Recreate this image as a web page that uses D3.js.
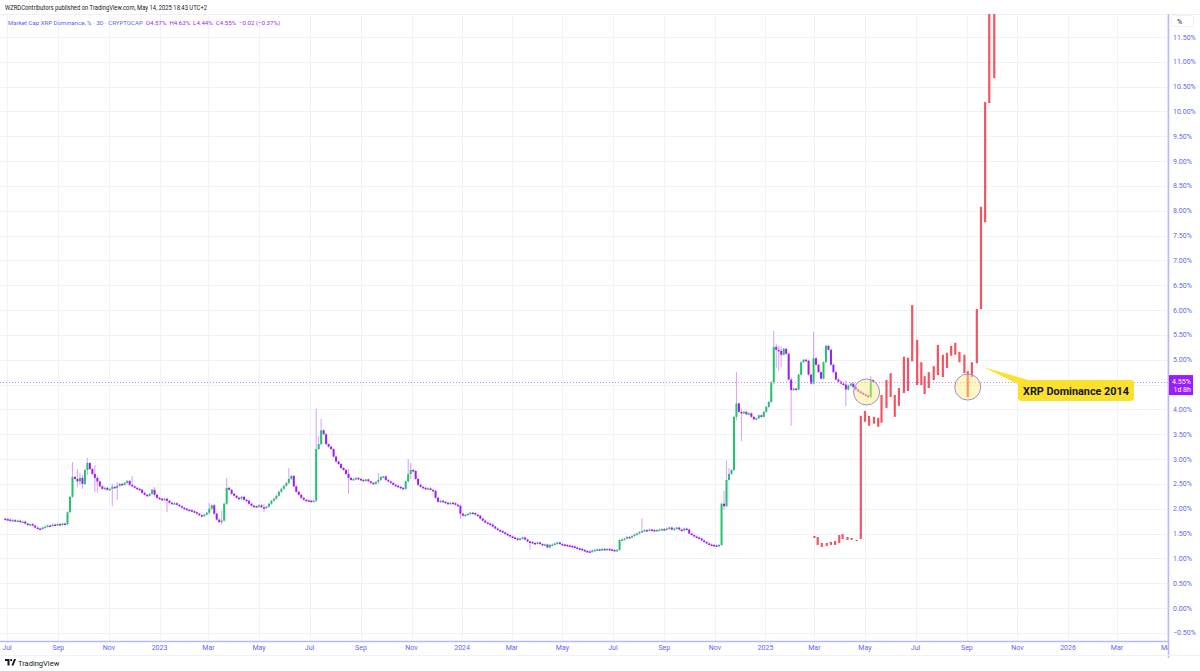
<!DOCTYPE html>
<html><head><meta charset="utf-8">
<script src="https://cdn.jsdelivr.net/npm/d3@7"></script>
<style>
body{margin:0;background:#fff;}
svg{display:block;font-family:Roboto,"Liberation Sans",sans-serif;}
</style>
</head><body>
<svg id="c" width="1200" height="671"></svg>
<script>
// ---------------- DATA ----------------
const startDate = "2022-06-29";          // first 3D candle
const stepDays = 3;
const firstOpen = 1.80;
const closes = [
 1.79,1.78,1.76,1.77,1.75,1.76,
 1.73,1.74,1.70,1.67,
 1.69,1.66,1.62,1.60,1.59,
 1.62,1.64,1.66,1.65,1.68,1.67,1.69,1.68,1.70,1.69,
 1.93,2.24,2.64,
 2.60,2.55,2.62,2.50,
 2.78,2.92,
 2.80,2.70,2.62,2.55,2.45,
 2.40,2.42,2.38,2.40,
 2.44,2.42,2.46,2.50,2.48,2.52,2.56,
 2.48,2.45,2.42,2.40,2.38,
 2.32,2.28,2.26,2.30,2.38,2.28,
 2.22,2.20,2.18,2.20,2.16,
 2.12,2.10,2.11,2.08,2.05,
 2.02,2.00,1.98,1.97,1.95,1.93,1.90,
 1.87,1.86,1.88,1.92,
 2.00,2.07,
 1.90,1.78,1.73,1.76,
 2.10,2.42,2.38,
 2.30,2.26,2.22,2.20,2.24,2.18,2.16,
 2.10,2.06,2.05,2.04,2.07,2.03,2.02,2.04,
 2.10,2.16,2.20,2.26,
 2.34,2.40,2.46,2.52,2.60,2.66,
 2.45,2.34,2.28,2.22,2.18,2.17,
 2.16,2.15,2.16,
 3.20,
 3.30,3.58,3.50,
 3.30,3.25,3.20,
 3.05,2.95,2.90,2.82,2.78,2.70,
 2.62,
 2.58,2.60,2.62,2.60,2.58,2.57,2.59,
 2.55,2.52,2.50,2.54,2.58,
 2.64,2.65,2.58,
 2.55,2.52,2.48,2.46,2.44,2.42,2.40,
 2.55,2.70,2.78,2.76,2.60,
 2.48,2.44,2.42,
 2.40,2.41,2.38,2.36,
 2.22,2.14,2.16,
 2.14,2.12,2.10,2.12,2.11,2.08,2.06,
 1.90,1.86,1.88,
 1.90,1.92,1.91,1.88,1.86,
 1.80,1.76,1.72,1.70,1.68,1.64,
 1.60,1.57,1.55,1.52,1.49,1.47,1.44,
 1.42,1.40,1.37,1.40,1.42,1.38,1.34,
 1.33,1.31,1.30,1.32,1.29,1.27,1.28,1.22,
 1.27,1.28,1.30,1.32,1.29,1.28,1.27,1.26,
 1.25,1.24,1.22,1.20,1.19,1.17,1.15,1.14,1.13,1.16,
 1.17,1.18,1.17,1.19,1.18,1.19,1.18,1.17,1.16,1.17,
 1.37,
 1.38,1.40,1.43,1.42,1.45,1.48,1.50,
 1.53,1.55,
 1.57,1.56,1.58,1.57,1.56,1.57,1.58,1.59,1.58,1.60,1.62,
 1.58,1.60,1.62,1.58,1.56,1.60,1.58,
 1.50,1.47,1.44,1.42,1.40,1.36,1.33,1.30,1.28,
 1.27,1.26,1.25,1.27,
 2.10,2.05,2.58,2.70,2.78,3.85,4.12,3.95,3.93,3.95,
 3.90,3.92,3.85,3.80,3.82,3.88,3.85,
 3.95,4.05,4.15,
 4.55,5.26,5.20,
 5.18,5.10,5.22,5.12,
 4.60,4.39,
 4.42,4.40,
 4.70,4.95,5.00,4.98,
 4.70,4.52,
 5.03,4.90,
 4.75,4.62,
 4.95,5.28,5.20,
 4.90,4.75,4.60,4.56,
 4.52,4.50,4.40,
 4.48,4.52,4.45,4.40,4.36,4.33,4.30,4.28,4.25,
 4.59,4.55
];
// notable wicks: [candle index, high, low]
const wickIdx  = [27,  29,  30,  31,  33,  36,  37,  43,  45,  51,  60,  65,  82,  87,  89,  104, 114, 125, 126, 127, 138, 150, 162, 163, 183, 211, 256, 289, 290, 291, 294, 296, 309, 310, 311, 312, 316, 325, 338, 348];
const wickHigh = [2.92,2.78,2.70,2.66,3.00,2.86,2.64,2.48,2.52,2.64,2.42,2.20,2.10,1.94,2.60,2.08,2.80,4.00,3.45,3.79,2.78,2.70,2.98,2.90,1.95,1.34,1.79,2.34,2.95,2.80,4.73,4.00,5.56,5.30,5.26,5.24,4.62,5.54,4.56,4.65];
const wickLow  = [2.60,2.45,2.50,2.42,2.70,2.35,2.35,2.07,2.20,2.46,2.26,1.95,1.90,1.70,2.36,1.95,2.52,2.15,3.20,3.40,2.32,2.52,2.55,2.62,1.82,1.20,1.53,2.00,2.58,2.66,3.80,3.38,4.52,4.85,4.80,4.88,3.69,4.98,4.09,4.50];

// 2014 XRP dominance overlay (red bars)
const projDates = ["2025-03-01","2025-03-05","2025-03-10","2025-03-16","2025-03-21","2025-03-26","2025-03-31","2025-04-04","2025-04-10","2025-04-15","2025-04-21","2025-04-26","2025-05-01","2025-05-06","2025-05-12","2025-05-17","2025-05-21","2025-05-27","2025-06-01","2025-06-06","2025-06-11","2025-06-17","2025-06-22","2025-06-27","2025-07-03","2025-07-08","2025-07-12","2025-07-17","2025-07-23","2025-07-28","2025-08-03","2025-08-08","2025-08-13","2025-08-18","2025-08-23","2025-08-29","2025-09-02","2025-09-07","2025-09-13","2025-09-18","2025-09-23","2025-09-28","2025-10-04"];
const projHigh = [1.45,1.43,1.31,1.31,1.33,1.35,1.47,1.49,1.43,1.41,1.37,3.87,3.97,3.87,3.85,3.83,4.29,4.59,4.73,4.29,4.43,5.06,5.04,6.10,5.40,4.95,4.67,4.75,4.87,5.30,5.10,5.14,5.28,5.34,5.16,5.10,4.77,4.95,6.02,8.08,10.19,13.0,13.0];
const projLow  = [1.41,1.27,1.23,1.25,1.27,1.27,1.31,1.39,1.37,1.37,1.35,1.39,3.75,3.67,3.71,3.65,3.73,4.03,4.25,3.85,4.07,4.33,4.37,4.97,4.49,4.49,4.31,4.43,4.59,4.69,4.65,4.83,5.08,5.10,4.95,4.73,4.25,4.65,4.93,6.02,7.77,10.17,10.67];

const monthTicks  = ["2022-07-01","2022-09-01","2022-11-01","2023-01-01","2023-03-01","2023-05-01","2023-07-01","2023-09-01","2023-11-01","2024-01-01","2024-03-01","2024-05-01","2024-07-01","2024-09-01","2024-11-01","2025-01-01","2025-03-01","2025-05-01","2025-07-01","2025-09-01","2025-11-01","2026-01-01","2026-03-01","2026-05-01"];
const monthLabels = ["Jul","Sep","Nov","2023","Mar","May","Jul","Sep","Nov","2024","Mar","May","Jul","Sep","Nov","2025","Mar","May","Jul","Sep","Nov","2026","Mar","May"];
const priceTicks = [-0.5,0,0.5,1,1.5,2,2.5,3,3.5,4,5,5.5,6,6.5,7,7.5,8,8.5,9,9.5,10,10.5,11,11.5];
const gridTicks  = [-0.5,0,0.5,1,1.5,2,2.5,3,3.5,4,4.5,5,5.5,6,6.5,7,7.5,8,8.5,9,9.5,10,10.5,11,11.5];
const lastPrice = 4.55;
const lastCountdown = "1d 8h";
const circleDates = ["2025-05-03","2025-09-02"];
const circleVals  = [4.35,4.45];
const headerText = "WZRDContributors published on TradingView.com, May 14, 2025 18:43 UTC+2";
const legendName = "Market Cap XRP Dominance, % · 3D · CRYPTOCAP";
const legendValues = "O4.57%  H4.63%  L4.44%  C4.55%  −0.02 (−0.37%)";
const calloutText = "XRP Dominance 2014";

// ---------------- LAYOUT ----------------
const W = 1200, H = 671;
const plotL = 0, plotR = 1168, plotT = 14, plotB = 641;
const parse = d3.utcParse("%Y-%m-%d");
const x = d3.scaleUtc().domain([parse("2022-07-01"), parse("2025-07-01")]).range([7, 915.5]);
const y = d3.scaleLinear().domain([0, 11.5]).range([608, 37]);

const svg = d3.select("#c");
svg.append("rect").attr("width",W).attr("height",H).attr("fill","#fff");

const defs = svg.append("defs");
defs.append("clipPath").attr("id","plot")
  .append("rect").attr("x",plotL).attr("y",plotT).attr("width",plotR-plotL).attr("height",plotB-plotT);
defs.append("clipPath").attr("id","xax")
  .append("rect").attr("x",0).attr("y",plotB).attr("width",plotR).attr("height",20);

// grid
const grid = svg.append("g").attr("clip-path","url(#plot)");
grid.selectAll("line.v").data(monthTicks).join("line")
  .attr("x1",d=>Math.round(x(parse(d)))+0.5).attr("x2",d=>Math.round(x(parse(d)))+0.5)
  .attr("y1",plotT).attr("y2",plotB).attr("stroke","#eff2f8").attr("stroke-width",1);
grid.selectAll("line.h").data(gridTicks).join("line")
  .attr("x1",plotL).attr("x2",plotR)
  .attr("y1",d=>Math.round(y(d))+0.5).attr("y2",d=>Math.round(y(d))+0.5)
  .attr("stroke","#eff2f8").attr("stroke-width",1);
svg.append("line").attr("x1",0).attr("x2",W).attr("y1",plotT+0.5).attr("y2",plotT+0.5)
  .attr("stroke","#eef0f5");

// candles
const candles = closes.map((c,i)=>{
  const d = d3.utcDay.offset(parse(startDate), i*stepDays);
  const o = i===0 ? firstOpen : closes[i-1];
  let hi = Math.max(o,c), lo = Math.min(o,c);
  const k = wickIdx.indexOf(i);
  if (k>=0){ hi = Math.max(hi, wickHigh[k]); lo = Math.min(lo, wickLow[k]); }
  return {d,o,c,hi,lo};
});
const cg = svg.append("g").attr("clip-path","url(#plot)");
cg.selectAll("line.w").data(candles).join("line")
  .attr("x1",d=>x(d.d)).attr("x2",d=>x(d.d))
  .attr("y1",d=>y(d.hi)-1).attr("y2",d=>y(d.lo)+1)
  .attr("stroke","#d9a6fb").attr("stroke-width",1.1);
cg.selectAll("rect.b").data(candles).join("rect")
  .attr("x",d=>x(d.d)-1).attr("width",2)
  .attr("y",d=>y(Math.max(d.o,d.c)))
  .attr("height",d=>Math.max(1.5, Math.abs(y(d.o)-y(d.c))))
  .attr("fill",d=>d.c>=d.o ? "#1fc46b" : "#9d1cf5");

// price line
svg.append("line").attr("x1",0).attr("x2",plotR)
  .attr("y1",Math.round(y(lastPrice))+0.5).attr("y2",Math.round(y(lastPrice))+0.5)
  .attr("stroke","#c98cff").attr("stroke-width",1).attr("stroke-dasharray","1,2");

// 2014 overlay bars
const pg = svg.append("g").attr("clip-path","url(#plot)");
pg.selectAll("line").data(projDates.map((d,i)=>({d:parse(d),h:projHigh[i],l:projLow[i]}))).join("line")
  .attr("x1",d=>x(d.d)).attr("x2",d=>x(d.d))
  .attr("y1",d=>y(d.h)).attr("y2",d=>y(d.l))
  .attr("stroke","#f23645").attr("stroke-opacity",0.85).attr("stroke-width",2.2);

// circles
svg.selectAll("circle.m").data(circleDates.map((d,i)=>({d:parse(d),v:circleVals[i]}))).join("circle")
  .attr("cx",d=>x(d.d)).attr("cy",d=>y(d.v)).attr("r",13)
  .attr("fill","rgba(255,236,120,0.45)").attr("stroke","#8f92e3").attr("stroke-width",1);

// callout
const bx = 1018, by = 380, bw = 116, bh = 21;
svg.append("path").attr("d",`M983,367 L${bx+14},${by+1} L${bx+4},${by+6} Z`).attr("fill","#fbe02e");
svg.append("rect").attr("x",bx).attr("y",by).attr("width",bw).attr("height",bh).attr("rx",3)
  .attr("fill","#fbe02e");
svg.append("text").attr("x",bx+5).attr("y",by+14.5)
  .attr("font-size",11.5).attr("font-weight","bold").attr("fill","#131722")
  .attr("textLength",106).attr("lengthAdjust","spacingAndGlyphs").text(calloutText);

// axes lines
svg.append("line").attr("x1",plotR+0.5).attr("x2",plotR+0.5).attr("y1",plotT).attr("y2",658)
  .attr("stroke","#b7baf6").attr("stroke-width",1.5);
svg.append("line").attr("x1",0).attr("x2",plotR).attr("y1",plotB+0.5).attr("y2",plotB+0.5)
  .attr("stroke","#b7baf6").attr("stroke-width",1.5);
svg.append("line").attr("x1",0).attr("x2",W).attr("y1",655.5).attr("y2",655.5)
  .attr("stroke","#f0f2f7");

// y-axis labels
svg.append("g").selectAll("text").data(priceTicks).join("text")
  .attr("x",1173).attr("y",d=>y(d)+2.5).attr("font-size",7).attr("fill","#6266ee")
  .text(d=>(d<0?"−":"")+Math.abs(d).toFixed(2)+"%");
// % box
svg.append("rect").attr("x",1171.5).attr("y",15.5).attr("width",22).attr("height",11).attr("rx",2)
  .attr("fill","#fff").attr("stroke","#eef0f4");
svg.append("text").attr("x",1177).attr("y",23.5).attr("font-size",7).attr("fill","#131722").text("%");

// last price label
const ly = y(lastPrice);
svg.append("rect").attr("x",1169).attr("y",ly-7).attr("width",24).attr("height",20).attr("fill","#9c1cff");
svg.append("text").attr("x",1172).attr("y",ly+1.5).attr("font-size",7).attr("fill","#fff").text(lastPrice.toFixed(2)+"%");
svg.append("text").attr("x",1173.5).attr("y",ly+10).attr("font-size",7).attr("fill","#fff").text(lastCountdown);

// x-axis labels
svg.append("g").attr("clip-path","url(#xax)").selectAll("text").data(monthTicks).join("text")
  .attr("x",(d)=>x(parse(d))).attr("y",650).attr("text-anchor","middle")
  .attr("font-size",7).attr("fill","#6266ee").text((d,i)=>monthLabels[i]);

// header and legend
svg.append("text").attr("x",5).attr("y",9.5).attr("font-size",7).attr("fill","#131722")
  .attr("textLength",202).attr("lengthAdjust","spacingAndGlyphs").text(headerText);
const lg = svg.append("text").attr("x",8).attr("y",24.5).attr("font-size",6.1)
  .attr("xml:space","preserve");
lg.append("tspan").attr("fill","#5b5ff0").text(legendName+"  ");
lg.append("tspan").attr("fill","#9c1cff").text(legendValues);

// TradingView logo
const tv = svg.append("g").attr("transform","translate(5,659)");
tv.append("path").attr("d","M0,0 H4.5 V6.5 H2.5 V2 H0 Z").attr("fill","#131722");
tv.append("circle").attr("cx",6.2).attr("cy",1.2).attr("r",1.1).attr("fill","#131722");
tv.append("path").attr("d","M6.5,6.5 L9,0 H11 L8.5,6.5 Z").attr("fill","#131722");
svg.append("text").attr("x",18).attr("y",665.5).attr("font-size",7.5).attr("fill","#131722").text("TradingView");
</script>
</body></html>
